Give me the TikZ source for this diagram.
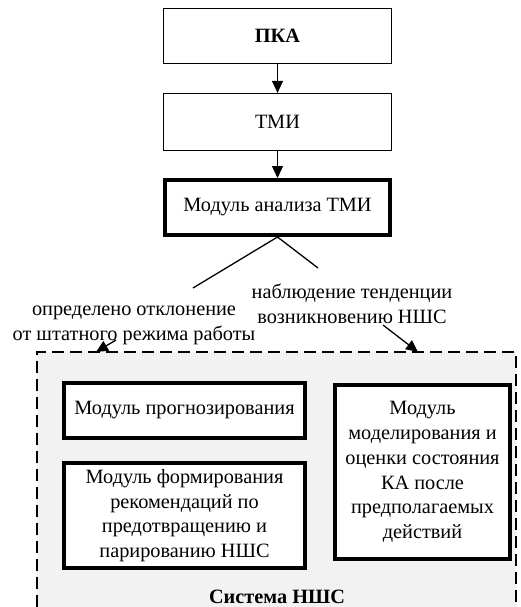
\documentclass[tikz,border=0pt]{standalone}
\usepackage{fontspec}
\setmainfont{Liberation Serif}
\usetikzlibrary{arrows.meta}

\tikzset{
	txt/.style={font=\fontsize{20.3}{24.7}\selectfont, align=center, inner sep=0pt},
	blk/.style={txt, draw, line width=1.2pt, fill=white},
	blkthick/.style={txt, draw, line width=4pt, fill=white},
	arr/.style={line width=1.3pt, -{Triangle[length=12pt,width=11pt]}},
}

\begin{document}
\begin{tikzpicture}[x=1pt, y=-1pt]
		\useasboundingbox (0,0) rectangle (520,607);
		% system area
		\fill[black!5] (37,352) rectangle (516,607);
		\draw[line width=1.2pt, dash pattern=on 12pt off 6pt] (37,607) -- (37,352) -- (516,352) -- (516,607);
		
		\node[blk, minimum width=228pt, minimum height=55pt] (pka) at (277.5,36) {\textbf{ПКА}};
		\node[blk, minimum width=228pt, minimum height=57pt] (tmi) at (277.5,122) {ТМИ};
		\node[blkthick, minimum width=225pt, minimum height=55pt] (analiz) at (277.5,207.5) {Модуль анализа ТМИ};
		
		\draw[arr] (pka) -- (tmi);
		\draw[arr] (tmi) -- (analiz);
		
		\coordinate (lend) at (193,288);
		\coordinate (rend) at (318,268);
		\draw[line width=1.3pt] (lend) -- (analiz.south) -- (rend);
		
		\node[txt] (otkl) at (134,325.5) {определено отклонение\\от штатного режима работы};
		\node[txt] (tend) at (352,304) {наблюдение тенденции\\возникновению НШС};
		
		\coordinate (lstart) at (116,340);
		\coordinate (ltip) at (96,352);
		\coordinate (rstart) at (383,325);
		\coordinate (rtip) at (418,352);
		\draw[arr] (lstart) -- (ltip);
		\draw[arr] (rstart) -- (rtip);
		
		\node[blkthick, minimum width=241pt, minimum height=55pt] (prog) at (184.5,410.5) {Модуль прогнозирования};
		\node[blkthick, minimum width=241pt, minimum height=105pt] (form) at (184.5,515.5) {Модуль формирования\\рекомендаций по\\предотвращению и\\парированию НШС};
		\node[blkthick, minimum width=175pt, minimum height=174pt] (model) at (422.5,472) {Модуль\\моделирования и\\оценки состояния\\КА после\\предполагаемых\\действий};
		
		\node[txt] (sys) at (277,597) {\textbf{Система НШС}};
	\end{tikzpicture}
\end{document}
